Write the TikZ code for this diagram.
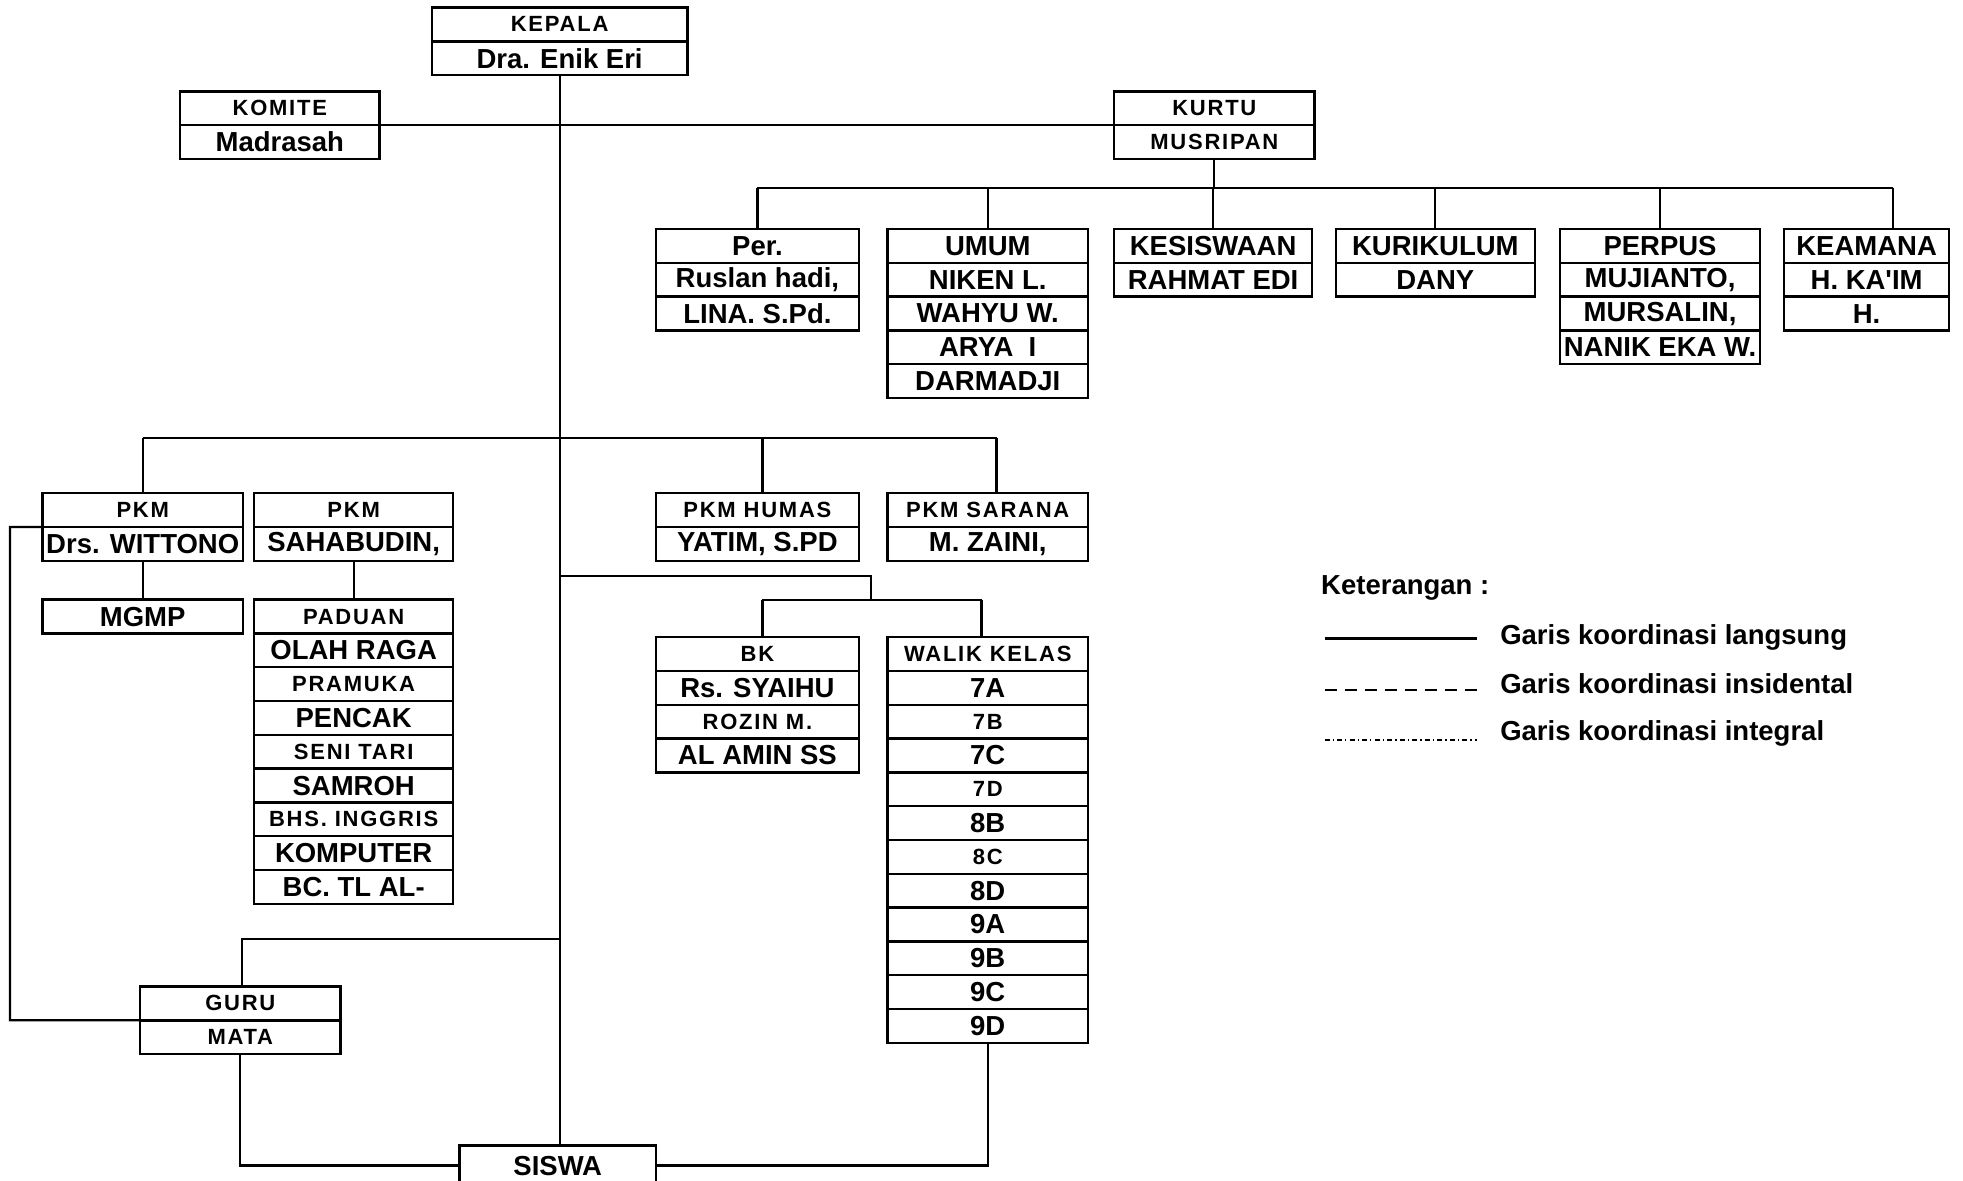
\documentclass[tikz,border=0pt]{standalone}
\usepackage{fontspec}
\setmainfont{Liberation Sans}
\usepackage{tikz}
\usetikzlibrary{positioning}
\definecolor{ink}{HTML}{000000}

\begin{document}
\begin{tikzpicture}[
  x=0.02cm, y=-0.02cm,
  cell/.style={draw=ink,line width=1.1pt,inner sep=0pt,outer sep=0pt,
               minimum height=0.54cm,text=ink},
  big/.style={cell,font={\bfseries\fontsize{12.5}{14}\selectfont}},
  sml/.style={cell,font={\bfseries\fontsize{10}{12}\selectfont\addfontfeature{LetterSpace=8}}},
  wd/.style={minimum width=#1*0.02cm},
  link/.style={draw=ink,line width=1pt},
  legtxt/.style={font={\bfseries\fontsize{12.5}{14}\selectfont},text=ink,anchor=west,inner sep=0pt}]

\useasboundingbox (0,0) rectangle (1568,943);

% pimpinan
\node[sml,wd=204,anchor=north west] (kepala1) at (345,6) {KEPALA};
\node[big,wd=204,below=0pt of kepala1] (kepala2) {Dra. Enik Eri};
\node[sml,wd=159,anchor=north west] (komite1) at (144,73) {KOMITE};
\node[big,wd=159,below=0pt of komite1] (komite2) {Madrasah};
\node[sml,wd=160,anchor=north west] (kurtu1) at (890,73) {KURTU};
\node[sml,wd=160,below=0pt of kurtu1] (kurtu2) {MUSRIPAN};

% staf tata usaha
\node[big,wd=162,anchor=north west] (per1) at (524,183) {Per.};
\node[big,wd=162,below=0pt of per1] (per2) {Ruslan hadi,};
\node[big,wd=162,below=0pt of per2] (per3) {LINA. S.Pd.};
\node[big,wd=160,anchor=north west] (umum1) at (709,183) {UMUM};
\node[big,wd=160,below=0pt of umum1] (umum2) {NIKEN L.};
\node[big,wd=160,below=0pt of umum2] (umum3) {WAHYU W.};
\node[big,wd=160,below=0pt of umum3] (umum4) {ARYA\ \ I};
\node[big,wd=160,below=0pt of umum4] (umum5) {DARMADJI};
\node[big,wd=158,anchor=north west] (siswaan1) at (890,183) {KESISWAAN};
\node[big,wd=158,below=0pt of siswaan1] (siswaan2) {RAHMAT EDI};
\node[big,wd=159,anchor=north west] (kurikulum1) at (1067,183) {KURIKULUM};
\node[big,wd=159,below=0pt of kurikulum1] (kurikulum2) {DANY};
\node[big,wd=160,anchor=north west] (perpus1) at (1246,183) {PERPUS};
\node[big,wd=160,below=0pt of perpus1] (perpus2) {MUJIANTO,};
\node[big,wd=160,below=0pt of perpus2] (perpus3) {MURSALIN,};
\node[big,wd=160,below=0pt of perpus3] (perpus4) {NANIK EKA W.};
\node[big,wd=132,anchor=north west] (aman1) at (1425,183) {KEAMANA};
\node[big,wd=132,below=0pt of aman1] (aman2) {H. KA\textquotesingle IM};
\node[big,wd=132,below=0pt of aman2] (aman3) {H.};

% wakil kepala
\node[sml,wd=160,anchor=north west] (pkma1) at (34,394) {PKM};
\node[big,wd=160,below=0pt of pkma1] (pkma2) {Drs. WITTONO};
\node[sml,wd=159,anchor=north west] (pkmb1) at (203,394) {PKM};
\node[big,wd=159,below=0pt of pkmb1] (pkmb2) {SAHABUDIN,};
\node[sml,wd=162,anchor=north west] (humas1) at (524,394) {PKM HUMAS};
\node[big,wd=162,below=0pt of humas1] (humas2) {YATIM, S.PD};
\node[sml,wd=160,anchor=north west] (sarana1) at (709,394) {PKM SARANA};
\node[big,wd=160,below=0pt of sarana1] (sarana2) {M. ZAINI,};

\node[big,wd=160,anchor=north west] (mgmp) at (34,479) {MGMP};

% ekstrakurikuler
\node[sml,wd=159,anchor=north west] (paduan) at (203,479) {PADUAN};
\node[big,wd=159,below=0pt of paduan] (olah) {OLAH RAGA};
\node[sml,wd=159,below=0pt of olah] (pramuka) {PRAMUKA};
\node[big,wd=159,below=0pt of pramuka] (pencak) {PENCAK};
\node[sml,wd=159,below=0pt of pencak] (tari) {SENI TARI};
\node[big,wd=159,below=0pt of tari] (samroh) {SAMROH};
\node[sml,wd=159,below=0pt of samroh] (inggris) {BHS. INGGRIS};
\node[big,wd=159,below=0pt of inggris] (komputer) {KOMPUTER};
\node[big,wd=159,below=0pt of komputer] (baca) {BC. TL AL-};

% bimbingan konseling
\node[sml,wd=162,anchor=north west] (bk1) at (524,509) {BK};
\node[big,wd=162,below=0pt of bk1] (bk2) {Rs. SYAIHU};
\node[sml,wd=162,below=0pt of bk2] (bk3) {ROZIN M.};
\node[big,wd=162,below=0pt of bk3] (bk4) {AL AMIN SS};

% wali kelas
\node[sml,wd=160,anchor=north west] (walik1) at (709,509) {WALIK KELAS};
\node[big,wd=160,below=0pt of walik1] (walik2) {7A};
\node[sml,wd=160,below=0pt of walik2] (walik3) {7B};
\node[big,wd=160,below=0pt of walik3] (walik4) {7C};
\node[sml,wd=160,below=0pt of walik4] (walik5) {7D};
\node[big,wd=160,below=0pt of walik5] (walik6) {8B};
\node[sml,wd=160,below=0pt of walik6] (walik7) {8C};
\node[big,wd=160,below=0pt of walik7] (walik8) {8D};
\node[big,wd=160,below=0pt of walik8] (walik9) {9A};
\node[big,wd=160,below=0pt of walik9] (walik10) {9B};
\node[big,wd=160,below=0pt of walik10] (walik11) {9C};
\node[big,wd=160,below=0pt of walik11] (walik12) {9D};

\node[sml,wd=160,anchor=north west] (guru1) at (112,788) {GURU};
\node[sml,wd=160,below=0pt of guru1] (guru2) {MATA};
\node[big,wd=157,minimum height=0.64cm,anchor=north west] (siswa) at (367,915) {SISWA};

% garis
\coordinate (busT) at (973,150);
\coordinate (dropK) at (1512,150);
\coordinate (busM) at (447,350);
\coordinate (dHum) at (609,350);
\coordinate (dSar) at (796,350);
\coordinate (loopL) at (8,421);
\coordinate (hubB) at (696,460);
\coordinate (barL) at (609,479);
\coordinate (barR) at (784,479);
\coordinate (hubG) at (193,750);

\draw[link] (kepala2.south) -- (kepala2.south |- siswa.north);
\draw[link] (komite1.south east) -- (kurtu1.south west);

\draw[link] (kurtu2.south) -- (kurtu2.south |- busT);
\draw[link] (per1.north |- busT) -- (dropK);
\draw[link] (per1.north) -- (per1.north |- busT);
\draw[link] (umum1.north) -- (umum1.north |- busT);
\draw[link] (siswaan1.north) -- (siswaan1.north |- busT);
\draw[link] (kurikulum1.north) -- (kurikulum1.north |- busT);
\draw[link] (perpus1.north) -- (perpus1.north |- busT);
\draw[link] (dropK) -- (dropK |- aman1.north);

\draw[link] (pkma1.north |- busM) -- (dSar);
\draw[link] (pkma1.north) -- (pkma1.north |- busM);
\draw[link] (dHum) -- (dHum |- humas1.north);
\draw[link] (dSar) -- (dSar |- sarana1.north);
\draw[link] (pkma2.south) -- (mgmp.north);
\draw[link] (pkmb2.south) -- (paduan.north);
\draw[link] (pkma1.south west) -- (loopL) |- (guru1.south west);

\draw[link] (hubB -| kepala2.south) -- (hubB) -- (hubB |- barL);
\draw[link] (barL) -- (barR);
\draw[link] (barL) -- (barL |- bk1.north);
\draw[link] (barR) -- (barR |- walik1.north);

\draw[link] (hubG -| kepala2.south) -- (hubG) -- (hubG |- guru1.north);
\draw[link] (guru2.south) |- (siswa.west);
\draw[link] (walik12.south) |- (siswa.east);

% keterangan
\node[legtxt] (ket) at (1055,470) {Keterangan :};
\node[legtxt] (lg1) at (1198,509) {Garis koordinasi langsung};
\node[legtxt] (lg2) at (1198,546) {Garis koordinasi insidental};
\node[legtxt] (lg3) at (1198,586) {Garis koordinasi integral};
\coordinate (s1) at (1058,510);
\coordinate (s2) at (1058,551);
\coordinate (s3) at (1058,591);
\draw[link,shorten >=0.36cm] (s1) -- (s1 -| lg1.west);
\draw[link,shorten >=0.36cm,dash pattern=on 0.2cm off 0.12cm] (s2) -- (s2 -| lg2.west);
\draw[draw=ink,line width=0.7pt,shorten >=0.36cm,
      dash pattern=on 0.08cm off 0.05cm on 0.02cm off 0.05cm] (s3) -- (s3 -| lg3.west);
\end{tikzpicture}
\end{document}
